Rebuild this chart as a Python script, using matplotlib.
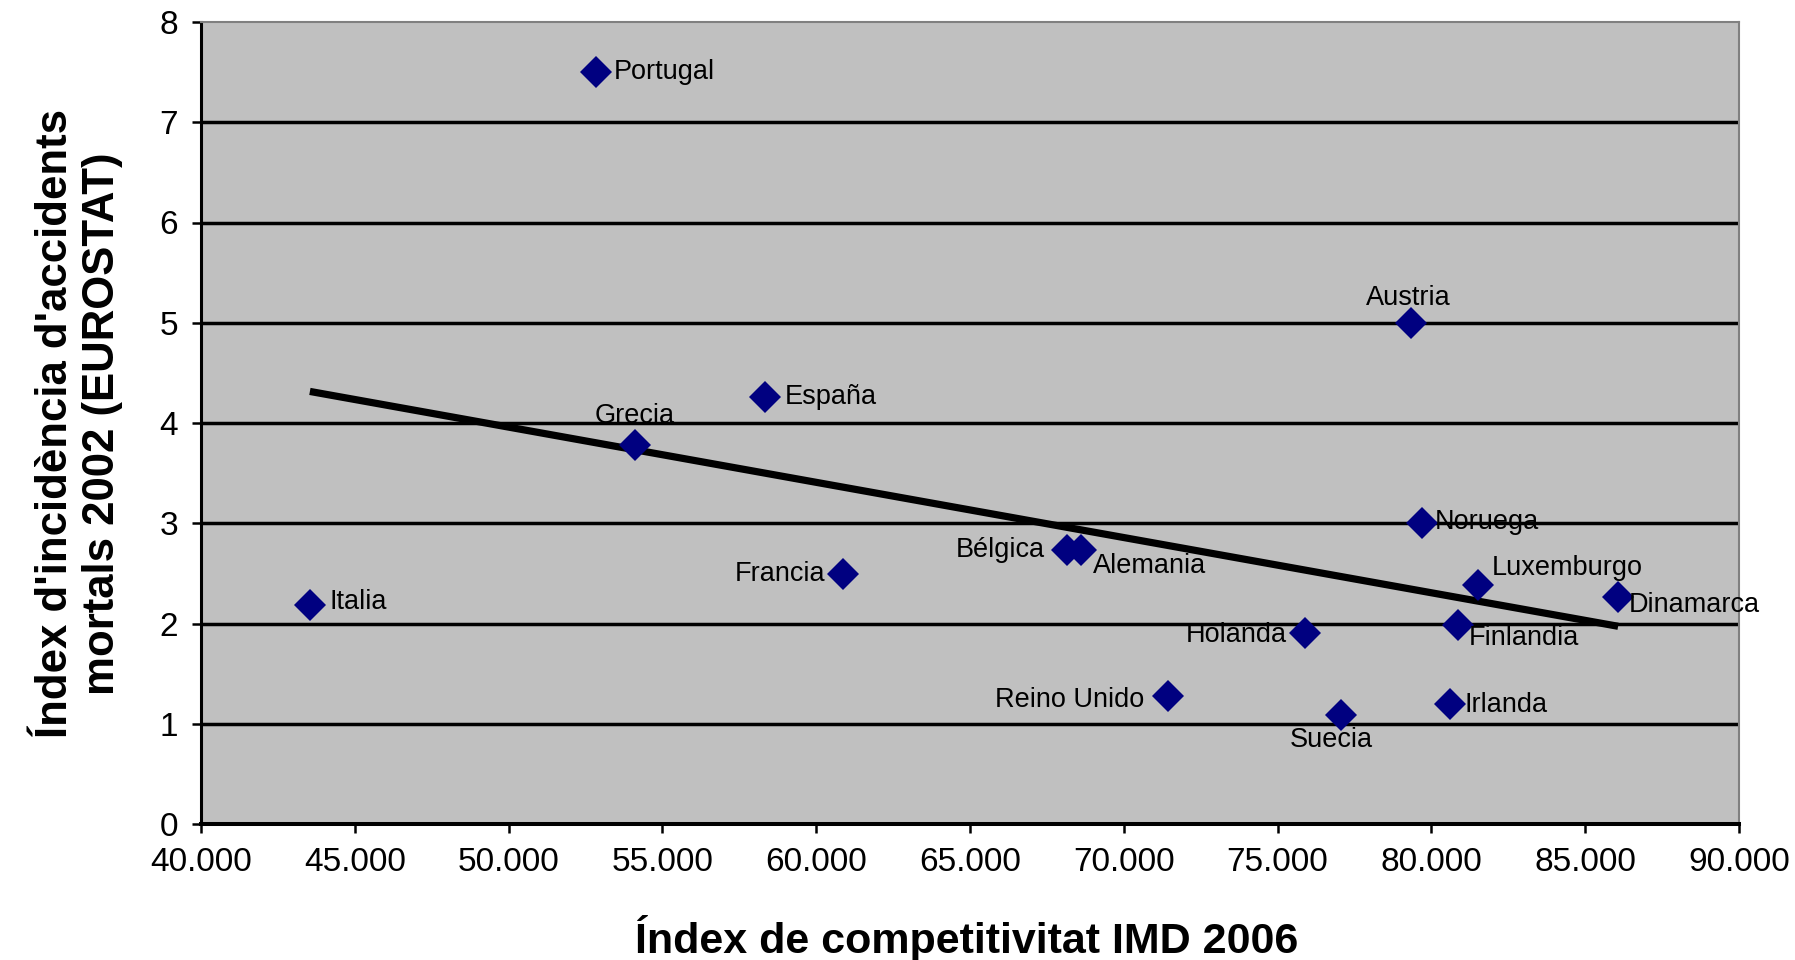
import numpy as np
from matplotlib import pyplot as plt

#----------------------------------------------------------------------
# datos
paises = ["Portugal", "Grecia", "España", "Francia", "Italia", "Bélgica",
          "Alemania", "Reino Unido", "Holanda", "Suecia", "Austria",
          "Noruega", "Irlanda", "Finlandia", "Luxemburgo", "Dinamarca"]
imd_2006 = [52.84, 54.10, 58.33, 60.86, 43.54, 68.14,
            68.62, 71.45, 75.90, 77.05, 79.33,
            79.70, 80.60, 80.85, 81.50, 86.07]
accidents_2002 = [7.50, 3.78, 4.26, 2.49, 2.18, 2.73,
                  2.73, 1.28, 1.91, 1.09, 5.00,
                  3.00, 1.20, 1.99, 2.38, 2.26]
xticks = [40, 45, 50, 55, 60, 65, 70, 75, 80, 85, 90]
yticks = [0, 1, 2, 3, 4, 5, 6, 7, 8]

# posicion de las etiquetas (offset en pixeles, alineacion)
label_pos = {
    "Portugal":    (18, 0, "left", "center"),
    "Grecia":      (0, 29, "center", "center"),
    "España":      (20, 0, "left", "center"),
    "Francia":     (-17, 0, "right", "center"),
    "Italia":      (20, 3, "left", "center"),
    "Bélgica":     (-22, 0, "right", "center"),
    "Alemania":    (12, -16, "left", "center"),
    "Reino Unido": (-24, -4, "right", "center"),
    "Holanda":     (-18, -2, "right", "center"),
    "Suecia":      (-9, -25, "center", "center"),
    "Austria":     (-2, 25, "center", "center"),
    "Noruega":     (13, 1, "left", "center"),
    "Irlanda":     (15, -1, "left", "center"),
    "Finlandia":   (11, -13, "left", "center"),
    "Luxemburgo":  (14, 17, "left", "center"),
    "Dinamarca":   (11, -8, "left", "center"),
}

plt.rcParams['font.family'] = ['Liberation Sans', 'DejaVu Sans']

fig = plt.figure(figsize=(17.95, 9.6), dpi=100)
ax = fig.add_axes([201 / 1795, 1 - 824 / 960, 1538 / 1795, 802 / 960])
ax.set_facecolor("#c0c0c0")

# lineas horizontales
for v in yticks[1:-1]:
    ax.axhline(v, color="black", lw=2.5, zorder=1)

# recta de tendencia (minimos cuadrados)
x = np.array(imd_2006)
y = np.array(accidents_2002)
a, b = np.polyfit(x, y, 1)
xt = np.array([x.min(), x.max()])
ax.plot(xt, a * xt + b, color="black", lw=5.2, solid_capstyle="butt", zorder=3)

ax.plot(x, y, linestyle="", marker="D", markersize=16.5,
        color="#000080", markeredgewidth=0, zorder=4)

for name, xv, yv in zip(paises, imd_2006, accidents_2002):
    dx, dy, ha, va = label_pos[name]
    ax.annotate(name, (xv, yv), xytext=(dx, dy), textcoords="offset pixels",
                ha=ha, va=va, fontsize=19.5, color="black", zorder=5)

ax.set_xlim(40, 90)
ax.set_ylim(0, 8)
ax.set_xticks(xticks)
ax.set_xticklabels(["%.3f" % v for v in xticks])
ax.set_yticks(yticks)
ax.set_yticklabels([str(v) for v in yticks])
ax.tick_params(axis="both", direction="out", length=6.5, width=1.8,
               labelsize=24, color="black")
ax.tick_params(axis="x", pad=10)
ax.tick_params(axis="y", pad=10)

ax.spines["left"].set_linewidth(2.2)
ax.spines["bottom"].set_linewidth(2.9)
ax.spines["top"].set_color("#808080")
ax.spines["right"].set_color("#808080")
ax.spines["top"].set_linewidth(1.5)
ax.spines["right"].set_linewidth(1.5)

fig.text(967 / 1795, 1 - 939 / 960, "Índex de competitivitat IMD 2006",
         ha="center", va="center", fontsize=31, fontweight="bold")
fig.text(79 / 1795, 1 - 424 / 960,
         "Índex d'incidència d'accidents\nmortals 2002 (EUROSTAT)",
         ha="center", va="center", rotation=90, fontsize=31.5,
         fontweight="bold", linespacing=1.2)

plt.savefig("out.png", dpi=100)
